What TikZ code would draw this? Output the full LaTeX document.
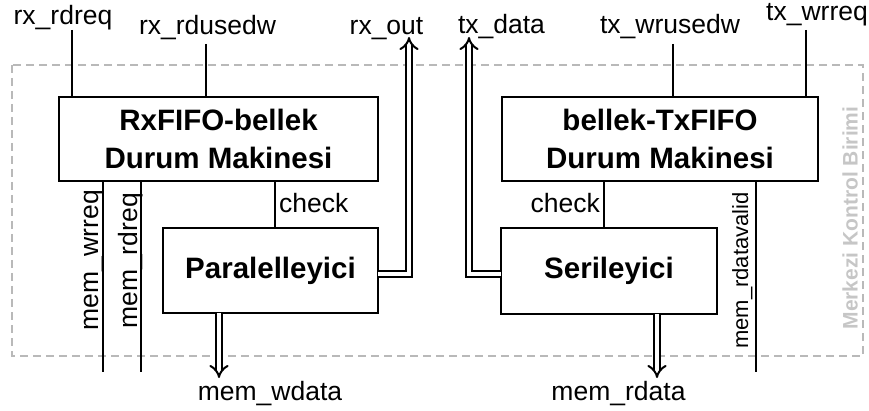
\documentclass[tikz,border=0pt]{standalone}
\usepackage{fontspec}
\setmainfont{Liberation Sans}
\usetikzlibrary{arrows.meta}

\tikzset{
    block/.style={draw, line width=2.6pt, outer sep=0pt, align=center,
        font=\fontsize{29.5}{38}\selectfont\bfseries},
    sig/.style={line width=2.4pt},
    bus/.style={double, line width=2pt, double distance=4.5pt, -{Implies}},
    lbl/.style={inner sep=0pt, font=\fontsize{26.5}{30}\selectfont},
    vlbl/.style={lbl, rotate=90, anchor=base east}
}

\begin{document}
\begin{tikzpicture}[x=1pt, y=-1pt]
\useasboundingbox (0,0) rectangle (869,411);

% Frame
\draw[gray!55, line width=2pt, dash pattern=on 8pt off 5pt] (12,65) rectangle (863,356);
\node[rotate=90, text=gray!45, font=\fontsize{21}{24}\selectfont\bfseries] (unit) at (850,218) {Merkezi Kontrol Birimi};

% Blocks
\node[block, minimum width=319pt, minimum height=84pt] (rxsm) at (218.5,139) {RxFIFO-bellek\\Durum Makinesi};
\node[block, minimum width=316pt, minimum height=84pt] (txsm) at (660,139) {bellek-TxFIFO\\Durum Makinesi};
\node[block, minimum width=215pt, minimum height=85pt] (par) at (270.5,270.5) {Paralelleyici};
\node[block, minimum width=216pt, minimum height=86pt] (ser) at (609,271) {Serileyici};

% Top signals
\coordinate (rdreq) at (72,30);
\coordinate (rdusedw) at (206,44);
\coordinate (wrusedw) at (673,44);
\coordinate (wrreq) at (806,30);
\draw[sig] (rdreq) -- (rdreq |- rxsm.north);
\draw[sig] (rdusedw) -- (rdusedw |- rxsm.north);
\draw[sig] (wrusedw) -- (wrusedw |- txsm.north);
\draw[sig] (wrreq) -- (wrreq |- txsm.north);
\node[lbl, anchor=base] (rdreqtxt) at (63,25) {rx\_rdreq};
\node[lbl, anchor=base] (rdusedwtxt) at (207.5,35) {rx\_rdusedw};
\node[lbl, anchor=base] (rxouttxt) at (386.5,35) {rx\_out};
\node[lbl, anchor=base] (txdatatxt) at (501.5,34) {tx\_data};
\node[lbl, anchor=base] (wrusedwtxt) at (670,34) {tx\_wrusedw};
\node[lbl, anchor=base] (wrreqtxt) at (817,21) {tx\_wrreq};

% Check lines
\coordinate (chkL) at (275,200);
\coordinate (chkR) at (604,200);
\draw[sig] (chkL |- rxsm.south) -- (chkL |- par.north);
\draw[sig] (chkR |- txsm.south) -- (chkR |- ser.north);
\node[lbl, anchor=base west] (chkLtxt) at (279,213) {check};
\node[lbl, anchor=base east] (chkRtxt) at (600,213) {check};

% Memory signals
\coordinate (memwr) at (103,372);
\coordinate (memrd) at (141,372);
\coordinate (memvalid) at (756,372);
\draw[sig] (memwr |- rxsm.south) -- (memwr);
\draw[sig] (memrd |- rxsm.south) -- (memrd);
\draw[sig] (memvalid |- txsm.south) -- (memvalid);
\node[vlbl] (memwrtxt) at (98,190) {mem\_wrreq};
\node[vlbl] (memrdtxt) at (137,193) {mem\_rdreq};
\node[vlbl, font=\fontsize{22}{26}\selectfont] (memvalidtxt) at (748,192) {mem\_rdatavalid};

% Data buses
\coordinate (rxout) at (409,37);
\coordinate (txdata) at (469,37);
\coordinate (wdata) at (219,378);
\coordinate (rdata) at (657,378);
\draw[bus] ([yshift=-3.5pt]par.east) -| (rxout);
\draw[bus] ([yshift=-3pt]ser.west) -| (txdata);
\draw[bus] (wdata |- par.south) -- (wdata);
\draw[bus] (rdata |- ser.south) -- (rdata);
\node[lbl, anchor=base] (wdatatxt) at (270,400) {mem\_wdata};
\node[lbl, anchor=base] (rdatatxt) at (618.5,400) {mem\_rdata};

\end{tikzpicture}
\end{document}
